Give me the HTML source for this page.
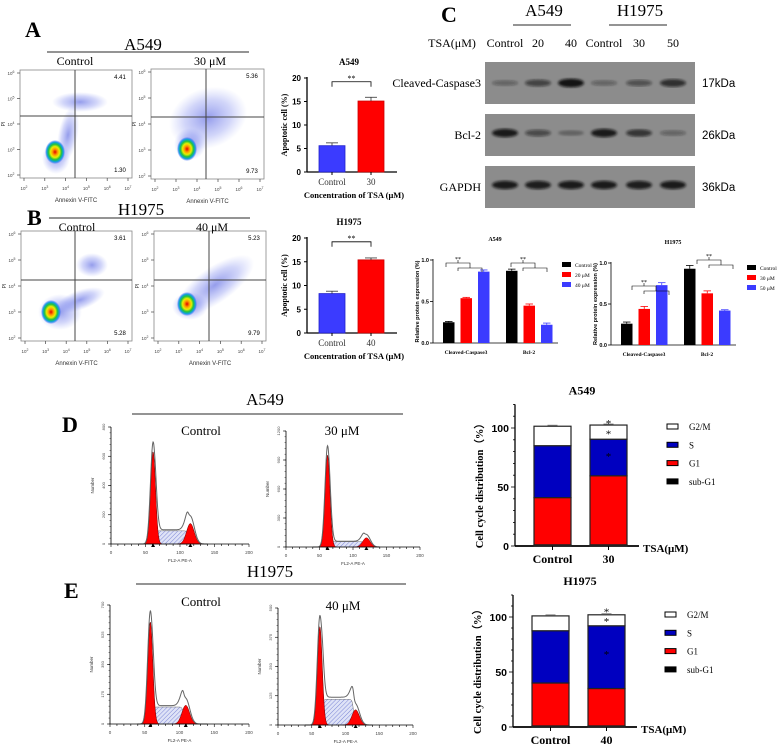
<!DOCTYPE html>
<html><head><meta charset="utf-8">
<style>
html,body{margin:0;padding:0;background:#fff;width:778px;height:746px;overflow:hidden}
svg{display:block}
</style></head>
<body>
<svg id="fig" width="778" height="746" viewBox="0 0 778 746" xmlns="http://www.w3.org/2000/svg">
<defs>
 <radialGradient id="core" cx="50%" cy="50%" r="50%">
  <stop offset="0" stop-color="#e00000"/><stop offset="0.25" stop-color="#ff9900"/>
  <stop offset="0.45" stop-color="#e8f000"/><stop offset="0.65" stop-color="#20c040"/>
  <stop offset="0.82" stop-color="#10a0e0"/><stop offset="1" stop-color="#2040ff" stop-opacity="0"/>
 </radialGradient>
 <radialGradient id="cloud" cx="50%" cy="50%" r="50%">
  <stop offset="0" stop-color="#2a3ad8" stop-opacity="0.5"/><stop offset="0.6" stop-color="#4a5ae8" stop-opacity="0.25"/>
  <stop offset="1" stop-color="#6a7af0" stop-opacity="0"/>
 </radialGradient>
 <pattern id="hatch" width="3" height="3" patternUnits="userSpaceOnUse" patternTransform="rotate(45)">
  <rect width="3" height="3" fill="#dfe3f7"/><line x1="0" y1="0" x2="0" y2="3" stroke="#7d86d6" stroke-width="1"/>
 </pattern>
 <filter id="blur1"><feGaussianBlur stdDeviation="1.2"/></filter>
</defs>
<g id="root"></g>
</svg>
<script>
// ---------- data ----------
const apopCats = ["Control","30"];
const apopA549 = [5.6, 15.1];
const apopA549Err = [0.6, 0.8];
const apopCatsB = ["Control","40"];
const apopH1975 = [8.3, 15.4];
const apopH1975Err = [0.5, 0.4];
const apopTicks = [0,5,10,15,20];

const protGroups = ["Cleaved-Caspase3","Bcl-2"];
const protA549Legend = ["Control","20 μM","40 μM"];
const protA549 = [[0.25,0.54,0.86],[0.87,0.45,0.22]];
const protA549Err = [[0.01,0.01,0.02],[0.02,0.02,0.02]];
const protH1975Legend = ["Control","30 μM","50 μM"];
const protH1975 = [[0.26,0.44,0.73],[0.93,0.63,0.42]];
const protH1975Err = [[0.02,0.03,0.03],[0.04,0.03,0.01]];
const protTicks = [0.0,0.5,1.0];

const ccPhases = ["sub-G1","G1","S","G2/M"];
const ccCatsA = ["Control","30"];
const ccA549 = [[1,40,44,16.5],[1,58.5,31,12]];
const ccCatsB = ["Control","40"];
const ccH1975 = [[1,39,47.5,13.5],[1,34,57,10]];
const ccTicks = [0,50,100];

const blotLanes = ["Control","20","40","Control","30","50"];
const bandCasp = [0.35,0.6,0.95,0.35,0.5,0.75];
const bandBcl = [0.9,0.55,0.3,0.9,0.7,0.35];
const bandGapdh = [0.9,0.88,0.9,0.9,0.88,0.9];

// histogram params: [G1 pos, G1 height, S height, G2 pos, G2 height, ymax]
const histD1 = [61,630,90,115,140,800];
const histD2 = [62,950,55,120,95,1200];
const histE1 = [58,600,100,109,110,700];
const histE2 = [62,420,110,115,65,500];

// ---------- helpers ----------
const NS="http://www.w3.org/2000/svg";
const root=document.getElementById('root');
function el(tag,attrs,parent){const e=document.createElementNS(NS,tag);for(const k in attrs)e.setAttribute(k,attrs[k]);(parent||root).appendChild(e);return e;}
function txt(x,y,s,size,opts,parent){opts=opts||{};const t=el('text',{x:x,y:y,'font-size':size,'text-anchor':opts.anchor||'middle',fill:opts.fill||'#000','font-weight':opts.bold?'bold':'normal','font-family':opts.sans?'"Liberation Sans",sans-serif':'"Liberation Serif",serif'},parent);if(opts.rot)t.setAttribute('transform','rotate('+opts.rot+' '+x+' '+y+')');t.textContent=s;return t;}
function line(x1,y1,x2,y2,c,w,parent){return el('line',{x1:x1,y1:y1,x2:x2,y2:y2,stroke:c||'#000','stroke-width':w||1},parent);}

[['A',25,37],['B',27,225],['C',441,22],['D',62,432],['E',64,598]].forEach(([l,x,y])=>{
 const t=txt(x,y,l,22,{bold:true,anchor:'start'});
 
});

// ---------- flow dot plots ----------
function flowPlot(x0,y0,x1,y1,qx,qy,ur,lr,cx,cy,name,clouds){
 const g=el('g',{});
 
 el('rect',{x:x0,y:y0,width:x1-x0,height:y1-y0,fill:'#fff',stroke:'#888','stroke-width':0.8},g);
 clouds.forEach(c=>el('ellipse',{cx:c[0],cy:c[1],rx:c[2],ry:c[3],fill:'url(#cloud)',transform:'rotate('+(c[4]||0)+' '+c[0]+' '+c[1]+')'},g));
 el('ellipse',{cx:cx,cy:cy,rx:10,ry:12,fill:'url(#core)'},g);
 line(qx,y0,qx,y1,'#444',1,g);line(x0,qy,x1,qy,'#444',1,g);
 txt(x1-12,y0+9,ur,6,{sans:true},g);txt(x1-12,y1-6,lr,6,{sans:true},g);
 const exps=['2','3','4','5','6','7'];
 exps.forEach((e,i)=>{const x=x0+4+i*(x1-x0-8)/5;line(x,y1,x,y1+3,'#444',0.7,g);const t=txt(x,y1+12,'10',4.5,{sans:true,fill:'#444'},g);const s=el('tspan',{dy:-2,'font-size':3.5},t);s.textContent=e;});
 ['6','5','4','3','2'].forEach((e,i)=>{const y=y0+3+i*(y1-y0-6)/4;line(x0-3,y,x0,y,'#444',0.7,g);const t=txt(x0-9,y+2,'10',4.5,{sans:true,fill:'#444'},g);const s=el('tspan',{dy:-2,'font-size':3.5},t);s.textContent=e;});
 txt((x0+x1)/2,y1+24,'Annexin V-FITC',6,{sans:true,fill:'#333'},g);
 txt(x0-15,(y0+y1)/2,'PI',5,{sans:true,rot:-90,fill:'#333'},g);
}
flowPlot(20,70,132,178,75,116,'4.41','1.30',55,152,'flow-a549-control',[[80,102,28,10,0],[68,135,10,28,10],[56,158,14,16,0]]);
flowPlot(151,69,264,179,206,117,'5.36','9.73',187,149,'flow-a549-30uM',[[208,118,40,30,-20],[190,144,16,16,0]]);
flowPlot(21,231,132,341,75,280,'3.61','5.28',51,312,'flow-h1975-control',[[60,312,22,18,0],[92,265,16,12,0],[80,300,26,10,-20]]);
flowPlot(154,231,266,341,209,280,'5.23','9.79',187,304,'flow-h1975-40uM',[[215,285,46,18,-35],[190,306,18,14,0]]);

function header(cx,y,label,lx1,lx2,ly,size,name){
 const t=txt(cx,y,label,size,{});
 line(lx1,ly,lx2,ly,'#555',1.2);
}
header(143,50,'A549',47,249,52,17,'a549-header-a');
txt(75,65,'Control',12,{});txt(210,65,'30 μM',12,{});
header(141,215,'H1975',49,250,218,17,'h1975-header-b');
txt(77,231,'Control',12,{});txt(212,231,'40 μM',12,{});

// ---------- apoptosis bar charts ----------
function apopChart(ax,y0,y20,cats,vals,errs,title,name){
 const g=el('g',{});
 const ys=v=>y0-(y0-y20)*v/20;
 line(ax,y20-1,ax,y0,'#000',1.3,g);line(ax,y0,ax+90,y0,'#000',1.3,g);
 apopTicks.forEach(t=>{line(ax-3,ys(t),ax,ys(t),'#000',1,g);txt(ax-6,ys(t)+3,String(t),8,{bold:true,anchor:'end',sans:true},g);});
 const colors=['#3b3bff','#ff0000'];
 cats.forEach((c,i)=>{
  const x=ax+12+i*39,w=26;
  const r=el('rect',{x:x,y:ys(vals[i]),width:w,height:y0-ys(vals[i]),fill:colors[i],stroke:i?'#c00':'#22c','stroke-width':0.8},g);
  
  const ye=ys(vals[i]+errs[i]);line(x+w/2,ys(vals[i]),x+w/2,ye,'#333',0.8,g);line(x+w/2-6,ye,x+w/2+6,ye,'#333',0.8,g);
  line(x+w/2,y0,x+w/2,y0+3,'#000',1,g);
  txt(x+w/2,y0+13,c,9,{fill:'#333'},g);
 });
 const bx1=ax+25,bx2=ax+64,by=ys(19.2);
 el('path',{d:`M${bx1} ${by+5}V${by}H${bx2}V${by+5}`,fill:'none',stroke:'#000','stroke-width':0.8},g);
 txt((bx1+bx2)/2,by-1,'**',8,{},g);
 txt(ax+42,y20-13,title,9,{bold:true},g);
 txt(ax+47,y0+26,'Concentration of TSA (μM)',8.5,{bold:true},g);
 txt(ax-20,(y0+y20)/2,'Apoptotic cell (%)',8,{bold:true,rot:-90},g);
}
apopChart(307,172,78,apopCats,apopA549,apopA549Err,'A549','apoptosis-chart-a549');
apopChart(307,333,238,apopCatsB,apopH1975,apopH1975Err,'H1975','apoptosis-chart-h1975');

// ---------- western blot ----------
header(544,16,'A549',513,571,25,17,'blot-header-a549');
header(640,16,'H1975',609,667,25,17,'blot-header-h1975');
txt(452,47,'TSA(μM)',12,{});
const laneX=[505,538,571,604,639,673];
blotLanes.forEach((l,i)=>txt(laneX[i],47,l,12,{}));
function blot(y,h,bands,label,kda,name,bandY){
 const g=el('g',{});
 el('rect',{x:485,y:y,width:210,height:h,fill:'#8c8c8c'},g);
 bands.forEach((b,i)=>el('ellipse',{cx:laneX[i],cy:y+bandY,rx:13,ry:2+2.5*b,fill:'#111','fill-opacity':b,filter:'url(#blur1)'},g));
 txt(481,y+h/2+4,label,12,{anchor:'end'},g);
 txt(702,y+h/2+4,kda,11.5,{anchor:'start',sans:true},g);
}
blot(62,42,bandCasp,'Cleaved-Caspase3','17kDa','blot-cleaved-caspase3',21);
blot(114,42,bandBcl,'Bcl-2','26kDa','blot-bcl2',19);
blot(166,42,bandGapdh,'GAPDH','36kDa','blot-gapdh',19);

// ---------- grouped protein bars ----------
function protChart(ax,y0,y1,vals,errs,legend,title,name,lx,ly){
 const g=el('g',{});
 const ys=v=>y0-(y0-y1)*v;
 line(ax,y1-1,ax,y0,'#000',0.8,g);line(ax,y0,ax+125,y0,'#000',0.8,g);
 protTicks.forEach(t=>{line(ax-3,ys(t),ax,ys(t),'#000',0.8,g);txt(ax-4,ys(t)+2,t.toFixed(1),5.5,{anchor:'end',sans:true,bold:true},g);});
 const cols=['#000','#ff0000','#3b3bff'];
 vals.forEach((gv,gi)=>{
  gv.forEach((v,i)=>{
   const x=ax+10+gi*63+i*17.5,w=11.5;
   el('rect',{x:x,y:ys(v),width:w,height:y0-ys(v),fill:cols[i]},g);
   const ye=ys(v+errs[gi][i]);line(x+w/2,ys(v),x+w/2,ye,cols[i],0.8,g);line(x+2,ye,x+w-2,ye,cols[i],0.8,g);
  });
  const cx=ax+10+gi*63+23;
  txt(cx,y0+11,protGroups[gi],5.5,{bold:true},g);
 });
 txt(ax+62,y1-19,title,6,{bold:true},g);
 txt(ax-14,(y0+y1)/2,'Relative protein expression (%)',5.5,{rot:-90,sans:true,bold:true},g);
 legend.forEach((l,i)=>{el('rect',{x:lx,y:ly+i*10-3,width:9,height:5,fill:cols[i]},g);txt(lx+13,ly+i*10+2,l,5.5,{anchor:'start'},g);});
 return {g,ys};
}
const pa=protChart(433,343,260,protA549,protA549Err,protA549Legend,'A549','protein-chart-a549',562,265);
el('path',{d:'M446 267V263H470V267M458 263V260 M458 271V268H482V272 M470 268V265',fill:'none',stroke:'#000','stroke-width':0.6},pa.g);
txt(458,261,'**',6,{},pa.g);
el('path',{d:'M511 267V263H535V267M523 263V260 M523 271V268H547V272 M535 268V265',fill:'none',stroke:'#000','stroke-width':0.6},pa.g);
txt(523,261,'**',6,{},pa.g);
const ph=protChart(611,345,263,protH1975,protH1975Err,protH1975Legend,'H1975','protein-chart-h1975',747,268);
el('path',{d:'M632 290V286H656V290M644 286V283 M644 294V291H669V295 M656 291V288',fill:'none',stroke:'#000','stroke-width':0.6},ph.g);
txt(644,284,'**',6,{},ph.g);
el('path',{d:'M697 264V260H721V264M709 260V257 M709 268V265H733V269 M721 265V262',fill:'none',stroke:'#000','stroke-width':0.6},ph.g);
txt(709,258,'**',6,{},ph.g);

// ---------- DNA histograms ----------
function gauss(x,m,s){return Math.exp(-0.5*((x-m)/s)**2);}
function sReg(v,g1,g2,hs){return hs*(1/(1+Math.exp(-(v-g1-3))))*(1/(1+Math.exp((v-g2+3))));}
function hist(ax,top,bot,right,p,name){
 const g=el('g',{});
 const [g1,h1,hs,g2,h2,ymax]=p;
 const xs=v=>ax+(right-ax)*v/200, ys=v=>bot-(bot-top)*v/ymax;
 let d=`M${xs(g1)} ${bot}`;
 for(let v=g1;v<=g2;v+=1){d+=`L${xs(v)} ${ys(sReg(v,g1,g2,hs))}`;}
 d+=`L${xs(g2)} ${bot}Z`;el('path',{d:d,fill:'url(#hatch)',stroke:'#666','stroke-width':0.5},g);
 [[g1,h1,3.6],[g2,h2,5.5]].forEach(([m,h,s])=>{let dd=`M${xs(m-3.5*s)} ${bot}`;for(let v=m-3.5*s;v<=m+3.5*s;v+=0.5)dd+=`L${xs(v)} ${ys(h*gauss(v,m,s))}`;dd+=`L${xs(m+3.5*s)} ${bot}Z`;el('path',{d:dd,fill:'#ff0000',stroke:'#600','stroke-width':0.5},g);});
 let o=`M${xs(40)} ${bot}`;
 for(let v=40;v<=140;v+=0.5){const t=h1*1.1*gauss(v,g1,3.8)+sReg(v,g1,g2,hs)*1.08+h2*1.35*gauss(v,g2,5.7);o+=`L${xs(v)} ${ys(t)}`;}
 el('path',{d:o,fill:'none',stroke:'#666','stroke-width':1},g);
 line(ax,top,ax,bot,'#000',0.8,g);line(ax,bot,right,bot,'#000',0.8,g);
 for(let v=0;v<=200;v+=10){line(xs(v),bot,xs(v),bot+(v%50?2:3),'#000',0.6,g);}
 [0,50,100,150,200].forEach(v=>txt(xs(v),bot+10,String(v),4.5,{sans:true,fill:'#444'},g));
 const step=ymax/4;for(let i=0;i<=4;i++){const v=i*step;line(ax-3,ys(v),ax,ys(v),'#000',0.6,g);txt(ax-6,ys(v),String(v),4,{sans:true,rot:-90,fill:'#444'},g);}
 for(let i=0;i<=20;i++){const v=i*ymax/20;line(ax-1.5,ys(v),ax,ys(v),'#000',0.4,g);}
 [g1,g2].forEach(m=>el('path',{d:`M${xs(m)-2} ${bot+3}L${xs(m)+2} ${bot+3}L${xs(m)} ${bot-0.5}Z`,fill:'#000'},g));
 txt((ax+right)/2,bot+18,'FL2-A PE-A',4.5,{sans:true,fill:'#333'},g);
 txt(ax-17,(top+bot)/2,'Number',4.5,{sans:true,rot:-90,fill:'#333'},g);
}
header(265,405,'A549',132,403,414,17,'a549-header-d');
txt(201,435,'Control',13,{});txt(342,435,'30 μM',13,{});
hist(111,427,544,249,histD1,'histogram-a549-control');
hist(286,431,547,420,histD2,'histogram-a549-30uM');
header(270,577,'H1975',136,406,584,17,'h1975-header-e');
txt(201,606,'Control',13,{});txt(343,610,'40 μM',13,{});
hist(110,605,724,249,histE1,'histogram-h1975-control');
hist(278,608,725,413,histE2,'histogram-h1975-40uM');

// ---------- stacked cell-cycle bars ----------
function stacked(ax,y0,y100,cats,vals,title,name,legTop,stars){
 const g=el('g',{});
 const ys=v=>y0-(y0-y100)*v/100;
 line(ax,ys(120),ax,y0,'#000',1.3,g);line(ax,y0,ax+124,y0,'#000',1.8,g);
 for(let v=0;v<=120;v+=10){line(ax-(v%50?2:4),ys(v),ax,ys(v),'#000',0.8,g);}
 ccTicks.forEach(t=>txt(ax-6,ys(t)+4,String(t),10.5,{anchor:'end',sans:true,bold:true},g));
 const cols=['#000','#ff0000','#0000c0','#fff'];
 cats.forEach((c,i)=>{
  const x=ax+19+i*56,w=37;let acc=0;
  vals[i].forEach((v,k)=>{const r=el('rect',{x:x,y:ys(acc+v),width:w,height:ys(acc)-ys(acc+v),fill:cols[k],stroke:'#222','stroke-width':1.2},g);acc+=v;
   line(x+w/2-5,ys(acc)-1,x+w/2+5,ys(acc)-1,'#666',0.8,g);});
  line(x+w/2,y0,x+w/2,y0+4,'#000',1,g);
  txt(x+w/2,y0+17,c,12,{bold:true},g);
 });
 stars.forEach(s=>txt(ax+19+56+18.5,ys(s)+6,'*',11,{},g));
 txt(ax+128,y0+6,'TSA(μM)',11,{bold:true,anchor:'start'},g);
 txt(ax+67,ys(120)-10,title,12,{bold:true},g);
 txt(ax-32,(y0+ys(120))/2+8,'Cell cycle distribution（%）',10.5,{bold:true,rot:-90},g);
 ['G2/M','S','G1','sub-G1'].forEach((l,i)=>{const lc=['#fff','#0000c0','#ff0000','#000'][i];el('rect',{x:ax+152,y:legTop+i*18.3-3,width:11,height:5,fill:lc,stroke:'#000','stroke-width':1},g);txt(ax+174,legTop+i*18.3+3,l,9,{anchor:'start'},g);});
}
stacked(515,546,428,ccCatsA,ccA549,'A549','cellcycle-chart-a549',427,[106,97,78]);
stacked(513,727,617,ccCatsB,ccH1975,'H1975','cellcycle-chart-h1975',615,[107,98,68]);
</script>
</body></html>
